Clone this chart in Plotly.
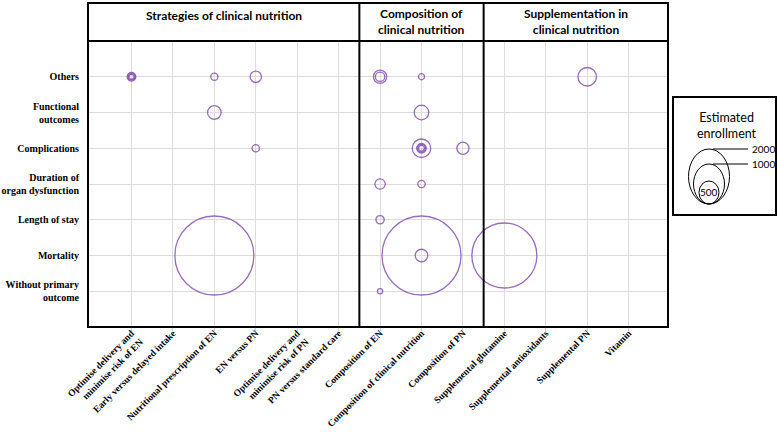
import plotly.graph_objects as go

# ---------------- data ----------------
x_categories = [
    "Optimise delivery and<br>minimise risk of EN",
    "Early versus delayed intake",
    "Nutritional prescription of EN",
    "EN versus PN",
    "Optimise delivery and<br>minimise risk of PN",
    "PN versus standard care",
    "Composition of EN",
    "Composition of clinical nutrition",
    "Composition of PN",
    "Supplemental glutamine",
    "Supplemental antioxidants",
    "Supplemental PN",
    "Vitamin",
]
# listed bottom -> top
y_categories = [
    "Without primary<br>outcome",
    "Mortality",
    "Length of stay",
    "Duration of<br>organ dysfunction",
    "Complications",
    "Functional<br>outcomes",
    "Others",
]
panel_titles = ["Strategies of clinical nutrition",
                "Composition of<br>clinical nutrition",
                "Supplementation in<br>clinical nutrition"]

trial_x = [
    x_categories[0], x_categories[0], x_categories[0],
    x_categories[2], x_categories[3],
    x_categories[6], x_categories[6], x_categories[7], x_categories[11],
    x_categories[2], x_categories[7],
    x_categories[3], x_categories[7], x_categories[7], x_categories[7], x_categories[7], x_categories[8],
    x_categories[6], x_categories[7],
    x_categories[6],
    x_categories[2], x_categories[7], x_categories[7], x_categories[9],
    x_categories[6],
]
trial_y = [
    "Others", "Others", "Others",
    "Others", "Others",
    "Others", "Others", "Others", "Others",
    "Functional<br>outcomes", "Functional<br>outcomes",
    "Complications", "Complications", "Complications", "Complications", "Complications", "Complications",
    "Duration of<br>organ dysfunction", "Duration of<br>organ dysfunction",
    "Length of stay",
    "Mortality", "Mortality", "Mortality", "Mortality",
    "Without primary<br>outcome",
]
trial_enrollment = [
    80, 50, 25,
    55, 140,
    190, 95, 40, 370,
    200, 230,
    60, 370, 100, 65, 35, 160,
    115, 60,
    75,
    6750, 6750, 170, 4570,
    30,
]
legend_values = [2000, 1000, 500]

# ---------------- figure ----------------
PURPLE = "#7030A0"
SERIF = "Liberation Serif"
SANS = "Lato"
sizeref = 2 * 2000 / 43 ** 2

fig = go.Figure()
fig.add_trace(go.Scatter(
    x=trial_x, y=trial_y, mode="markers",
    marker=dict(size=trial_enrollment, sizemode="area", sizeref=sizeref,
                color="rgba(0,0,0,0)", line=dict(color=PURPLE, width=1.3)),
    hoverinfo="x+y+text", text=[str(v) for v in trial_enrollment],
    showlegend=False,
))

X0, X1 = -1.05, 12.95
HTOP = 1 + 38 / 286

shapes = []
# outer box incl. header
shapes.append(dict(type="rect", xref="paper", yref="paper", x0=0, x1=1, y0=0, y1=HTOP,
                   line=dict(color="black", width=2)))
# header separator
shapes.append(dict(type="line", xref="paper", yref="paper", x0=0, x1=1, y0=1, y1=1,
                   line=dict(color="black", width=2)))
# panel dividers
for xd in [5.5, 8.5]:
    shapes.append(dict(type="line", xref="x", yref="paper", x0=xd, x1=xd, y0=0, y1=HTOP,
                       line=dict(color="black", width=2)))

annotations = []
for xc, t, yy in zip([(X0 + 5.5) / 2, 7, (8.5 + X1) / 2], panel_titles,
                     [1 + 25 / 286, (1 + HTOP) / 2, (1 + HTOP) / 2]):
    annotations.append(dict(x=xc, y=yy, xref="x", yref="paper", text=t,
                            showarrow=False, xanchor="center", yanchor="middle",
                            font=dict(family=SANS, size=12, color="black", weight="bold")))

# ---- size key (legend box) ----
def px_x(p):
    return (p - 88) / 580
def px_y(p):
    return (327 - p) / 286

shapes.append(dict(type="rect", xref="paper", yref="paper",
                   x0=px_x(673), x1=px_x(776), y0=px_y(215), y1=px_y(97),
                   line=dict(color="black", width=2)))
key_dims = {2000: (41, 55), 1000: (31, 40), 500: (20, 23)}
for v in legend_values:
    w, h = key_dims[v]
    shapes.append(dict(type="circle", xref="paper", yref="paper",
                       xsizemode="pixel", ysizemode="pixel",
                       xanchor=px_x(709), yanchor=px_y(204),
                       x0=-w / 2, x1=w / 2, y0=0, y1=h,
                       line=dict(color="black", width=1)))
for ly in [149, 164]:
    shapes.append(dict(type="line", xref="paper", yref="paper",
                       x0=px_x(713), x1=px_x(748), y0=px_y(ly), y1=px_y(ly),
                       line=dict(color="black", width=1)))
annotations.append(dict(x=px_x(727), y=px_y(125), xref="paper", yref="paper",
                        text="Estimated<br>enrollment", showarrow=False,
                        xanchor="center", yanchor="middle",
                        font=dict(family=SANS, size=12.5, color="black")))
for v, ly in zip(legend_values[:2], [149, 164]):
    annotations.append(dict(x=px_x(750), y=px_y(ly), xref="paper", yref="paper",
                            text=str(v), showarrow=False, xanchor="left", yanchor="middle",
                            font=dict(family=SANS, size=10, color="black")))
annotations.append(dict(x=px_x(709), y=px_y(192), xref="paper", yref="paper",
                        text=str(legend_values[2]), showarrow=False,
                        xanchor="center", yanchor="middle",
                        font=dict(family=SANS, size=10, color="black")))

fig.update_layout(
    width=778, height=432,
    margin=dict(l=88, r=110, t=41, b=105),
    paper_bgcolor="white", plot_bgcolor="white",
    shapes=shapes, annotations=annotations,
    xaxis=dict(type="category", categoryorder="array", categoryarray=x_categories,
               range=[X0, X1], showgrid=True, gridcolor="#dcdcdc", gridwidth=1,
               zeroline=False, showline=False, tickangle=-45, automargin=False,
               ticks="outside", ticklen=3, tickcolor="#cfcfcf", ticklabelstandoff=-7,
               tickfont=dict(family=SERIF, size=9.5, color="black", weight="bold")),
    yaxis=dict(type="category", categoryorder="array", categoryarray=y_categories,
               range=[-1, 7], showgrid=True, gridcolor="#dcdcdc", gridwidth=1,
               zeroline=False, showline=False, ticks="", ticklabelstandoff=8,
               automargin=False,
               tickfont=dict(family=SERIF, size=10, color="black", weight="bold")),
    showlegend=False,
)

fig.write_html("out.html", config={"displayModeBar": False},
               post_script="document.body.style.margin='0';document.body.style.overflow='hidden';")
